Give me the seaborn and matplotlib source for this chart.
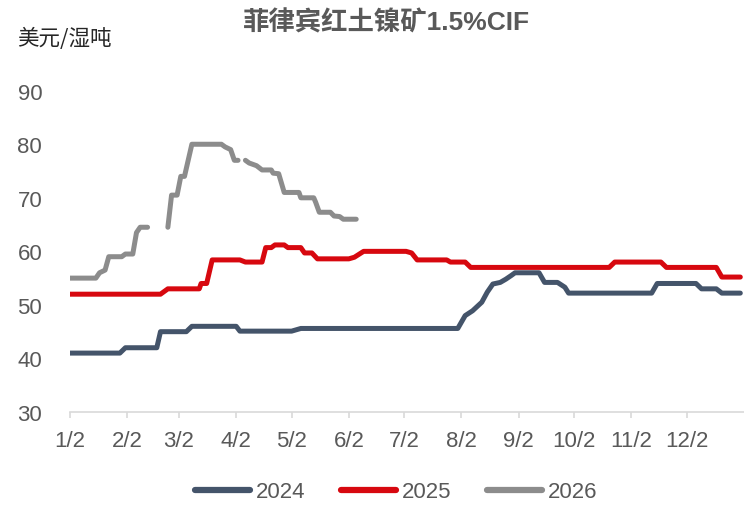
import pandas as pd
import matplotlib
matplotlib.use("Agg")
import matplotlib.pyplot as plt
import seaborn as sns

BASE_YEAR = 2025  # all series drawn on one common (non-leap) calendar year

# 2024 series (date MM-DD, USD / wet ton)
dates_2024 = ["01-02", "01-29", "02-01", "02-18", "02-20", "03-06", "03-09", "04-02",
              "04-04", "05-02", "05-07", "07-31", "08-04", "08-08", "08-13", "08-16",
              "08-19", "08-23", "08-26", "08-29", "08-31", "09-13", "09-16", "09-23",
              "09-27", "09-29", "11-13", "11-16", "12-07", "12-10", "12-18", "12-21", "12-31"]
vals_2024 = [41, 41, 42, 42, 45, 45, 46, 46,
             45.1, 45.1, 45.6, 45.6, 48, 48.9, 50.5, 52.4,
             53.9, 54.2, 54.8, 55.5, 56, 56, 54.2, 54.2,
             53.3, 52.2, 52.2, 54, 54, 53, 53, 52.2, 52.2]

# 2025 series
dates_2025 = ["01-02", "02-20", "02-24", "03-13", "03-14", "03-17", "03-20", "04-04",
              "04-07", "04-16", "04-18", "04-21", "04-23", "04-28", "04-30", "05-07",
              "05-09", "05-13", "05-16", "06-02", "06-05", "06-10", "07-03", "07-06",
              "07-09", "07-25", "07-27", "08-04", "08-07", "10-21", "10-24", "11-18",
              "11-21", "12-18", "12-21", "12-31"]
vals_2025 = [52, 52, 53, 53, 54, 54, 58.4, 58.4,
             58, 58, 60.7, 60.7, 61.2, 61.2, 60.7, 60.7,
             59.7, 59.7, 58.6, 58.6, 58.9, 60, 60, 59.7,
             58.4, 58.4, 58, 58, 57, 57, 58, 58,
             57, 57, 55.2, 55.2]

# 2026 series (None = no quote, line is broken there)
dates_2026 = ["01-02", "01-16", "01-18", "01-21", "01-23", "01-30", "02-01", "02-05",
              "02-07", "02-09", "02-13", "02-18",
              "02-24", "02-26", "03-01", "03-03", "03-05", "03-09", "03-25", "03-27",
              "03-30", "04-01", "04-03", "04-05",
              "04-07", "04-09", "04-13", "04-16", "04-21", "04-22", "04-25", "04-28",
              "05-06", "05-07", "05-14", "05-15", "05-17", "05-23", "05-25", "05-28",
              "05-30", "06-06"]
vals_2026 = [55, 55, 56, 56.5, 59, 59, 59.5, 59.5,
             63.5, 64.5, 64.5, None,
             64.5, 70.5, 70.5, 74, 74, 80, 80, 79.5,
             79, 77, 77, None,
             77, 76.5, 76, 75.2, 75.2, 74.6, 74.5, 71,
             71, 70, 70, 69.2, 67.3, 67.3, 66.6, 66.5,
             66, 66]

years = ["2024", "2025", "2026"]
colors = ["#44546A", "#D7080F", "#8C8C8C"]
tick_months = list(range(1, 13))


def build_frame():
    frames = []
    for year, dates, vals in zip(years, [dates_2024, dates_2025, dates_2026],
                                 [vals_2024, vals_2025, vals_2026]):
        df = pd.DataFrame({"date": pd.to_datetime([f"{BASE_YEAR}-{d}" for d in dates]),
                           "value": pd.to_numeric(pd.Series(vals, dtype="object"))})
        df["seg"] = year + "_" + df["value"].isna().cumsum().astype(str)
        df["year"] = year
        frames.append(df.dropna())
    return pd.concat(frames, ignore_index=True)


data = build_frame()

sns.set_theme(style="white")
plt.rcParams["font.family"] = ["Liberation Sans", "Noto Sans CJK SC", "DejaVu Sans"]
grey_txt = "#595959"

fig = plt.figure(figsize=(7.44, 5.06), dpi=100)
ax = fig.add_axes([70 / 744, 93 / 506, 674 / 744, 321.3 / 506])

sns.lineplot(data=data, x="date", y="value", hue="year", units="seg", estimator=None,
             palette=dict(zip(years, colors)), linewidth=3.6, ax=ax, legend=False,
             solid_capstyle="round", solid_joinstyle="round")

ax.set_ylim(30, 90)
ax.set_yticks(range(30, 91, 10))
ax.set_xlim(pd.Timestamp(f"{BASE_YEAR}-01-02"), pd.Timestamp(f"{BASE_YEAR + 1}-01-02"))
ax.set_xticks([pd.Timestamp(f"{BASE_YEAR}-{m:02d}-02") for m in tick_months])
ax.set_xticklabels([f"{m}/2" for m in tick_months])
ax.set_xlabel("")
ax.set_ylabel("")

for side in ["top", "right", "left"]:
    ax.spines[side].set_visible(False)
ax.spines["bottom"].set_color("#D9D9D9")
ax.spines["bottom"].set_linewidth(1.2)
ax.tick_params(axis="x", length=4, width=1.2, color="#D9D9D9", pad=9,
               labelsize=16, labelcolor=grey_txt, bottom=True)
ax.tick_params(axis="y", length=0, pad=20, labelsize=16, labelcolor=grey_txt)

fig.text(386 / 744, 1 - 23 / 506, "菲律宾红土镍矿1.5%CIF", ha="center", va="center",
         fontsize=19, fontweight="bold", color=grey_txt,
         family=["Liberation Sans", "Noto Sans CJK SC"])
fig.text(17 / 744, 1 - 39 / 506, "美元/湿吨", ha="left", va="center",
         fontsize=15.5, color="#262626", family=["Noto Sans CJK SC", "DejaVu Sans"])

handles = [plt.Line2D([], [], color=c, linewidth=4.5, solid_capstyle="round") for c in colors]
fig.legend(handles, years, loc="center", bbox_to_anchor=(396 / 744, 1 - 493 / 506),
           ncol=3, frameon=False, fontsize=16, handlelength=2.5, handletextpad=0.25,
           columnspacing=1.6, labelcolor=grey_txt)

fig.savefig("out.png", dpi=100)
